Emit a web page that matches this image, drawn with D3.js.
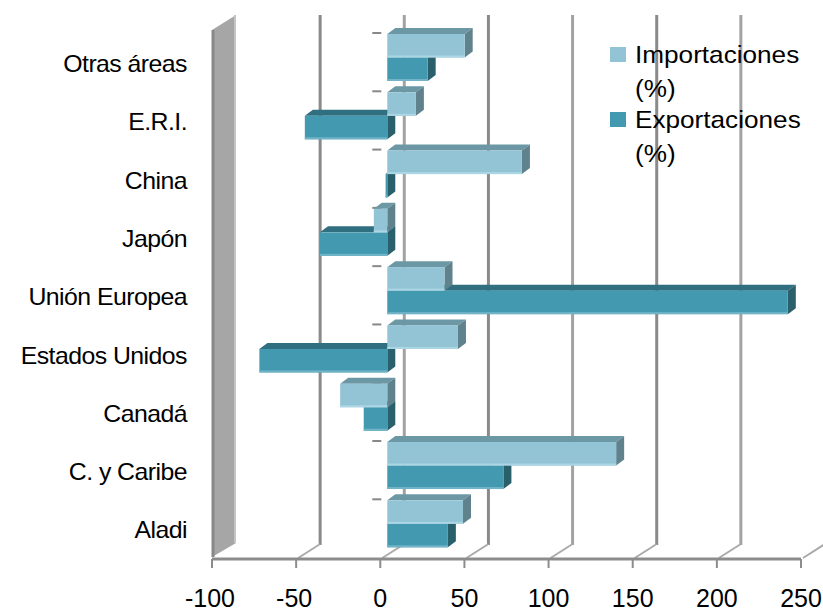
<!DOCTYPE html>
<html>
<head>
<meta charset="utf-8">
<script src="https://cdn.jsdelivr.net/npm/d3@7"></script>
<style>
  body { margin: 0; background: #fff; }
  svg { display: block; font-family: "Liberation Sans", Arial, sans-serif; }
</style>
</head>
<body>
<svg id="chart" width="823" height="614"></svg>
<script>
const categories = ['Otras áreas', 'E.R.I.', 'China', 'Japón', 'Unión Europea', 'Estados Unidos', 'Canadá', 'C. y Caribe', 'Aladi']
const importaciones = [46, 17, 80, -8, 34, 42, -28, 136, 45]
const exportaciones = [24, -49, -1, -40, 238, -76, -14, 69, 36]
const seriesNames = ['Importaciones (%)', 'Exportaciones (%)']
const ticks = [-100, -50, 0, 50, 100, 150, 200, 250]

const svg = d3.select('#chart')

const x = d3.scaleLinear().domain([-100, 250]).range([212, 801])
const y = d3.scaleBand().domain(categories).range([33, 557.6])
const ys = d3.scaleBand().domain(['imp', 'exp']).range([1, 48])

// depth of the back wall and of each bar
const wall = {dx: 24, dy: -14}
const deep = {dx: 8, dy: -6}
const barShift = 7

const styles = {
  imp: {front: '#92c4d6', top: '#6c97a5', side: '#5f828d', edge: '#acd6e4'},
  exp: {front: '#4299b0', top: '#2f6f7f', side: '#2a5f6c', edge: '#72b4c7'}
}

// left side wall
svg.append('polygon')
    .attr('points', [[212, 30], [212 + wall.dx, 30 + wall.dy - 1], [212 + wall.dx, 557 + wall.dy], [212, 557]].join(' '))
    .attr('fill', '#a6a6a6')
svg.append('line')
    .attr('x1', 213).attr('x2', 213).attr('y1', 30).attr('y2', 557)
    .attr('stroke', '#888').attr('stroke-width', 3)
svg.append('line')
    .attr('x1', 235).attr('x2', 235).attr('y1', 15).attr('y2', 543)
    .attr('stroke', '#c4c4c4').attr('stroke-width', 2)

// back wall gridlines
svg.append('g').selectAll('line').data(ticks.slice(1)).enter().append('line')
    .attr('x1', d => x(d) + wall.dx).attr('x2', d => x(d) + wall.dx)
    .attr('y1', 15).attr('y2', 559 + wall.dy)
    .attr('stroke', (d, i) => i % 2 ? '#a2a2a2' : '#8a8a8a')
    .attr('stroke-width', 3)

// floor diagonals
svg.append('g').selectAll('line').data(ticks.slice(1)).enter().append('line')
    .attr('x1', d => x(d) + 2).attr('y1', 558)
    .attr('x2', d => x(d) + wall.dx).attr('y2', 558 + wall.dy)
    .attr('stroke', '#aaa').attr('stroke-width', 2)

// category ticks
svg.append('g').selectAll('line').data(categories).enter().append('line')
    .attr('x1', x(0) - 8).attr('x2', x(0) + 1)
    .attr('y1', d => y(d)).attr('y2', d => y(d))
    .attr('stroke', '#888').attr('stroke-width', 2)

const bars = []
categories.forEach((c, i) => {
  bars.push({cat: c, key: 'exp', value: exportaciones[i]})
  bars.push({cat: c, key: 'imp', value: importaciones[i]})
})

const g = svg.append('g')
bars.forEach(b => {
  const st = styles[b.key]
  const x0 = x(Math.min(0, b.value)) + barShift
  const x1 = x(Math.max(0, b.value)) + barShift
  const y0 = y(b.cat) + ys(b.key)
  const y1 = y0 + ys.bandwidth()
  const bar = g.append('g')
  bar.append('polygon')
      .attr('points', [[x0, y0], [x0 + deep.dx, y0 + deep.dy], [x1 + deep.dx, y0 + deep.dy], [x1, y0]].join(' '))
      .attr('fill', st.top)
  bar.append('polygon')
      .attr('points', [[x1, y0], [x1 + deep.dx, y0 + deep.dy], [x1 + deep.dx, y1 + deep.dy], [x1, y1]].join(' '))
      .attr('fill', st.side)
  bar.append('rect')
      .attr('x', x0).attr('y', y0)
      .attr('width', x1 - x0).attr('height', y1 - y0)
      .attr('fill', st.front)
  bar.append('rect')
      .attr('x', x0).attr('y', y1 - 2)
      .attr('width', x1 - x0).attr('height', 2)
      .attr('fill', st.edge)
})

// front value axis
svg.append('line')
    .attr('x1', x(-100)).attr('x2', x(250)).attr('y1', 559).attr('y2', 559)
    .attr('stroke', '#8c8c8c').attr('stroke-width', 3)
svg.append('g').selectAll('line').data(ticks).enter().append('line')
    .attr('x1', d => x(d)).attr('x2', d => x(d)).attr('y1', 559).attr('y2', 568)
    .attr('stroke', '#8c8c8c').attr('stroke-width', 2)
svg.append('g').selectAll('text').data(ticks).enter().append('text')
    .attr('x', d => x(d) - (d < 0 ? 2 : 0)).attr('y', 607)
    .attr('text-anchor', 'middle')
    .attr('font-size', 25)
    .text(d => d)

// category labels
svg.append('g').selectAll('text').data(categories).enter().append('text')
    .attr('transform', d => `translate(187,${y(d) + y.bandwidth() / 2 + 10}) scale(1.08,1)`)
    .attr('text-anchor', 'end')
    .attr('font-size', 23)
    .attr('letter-spacing', -0.5)
    .text(d => d)

// legend
const legend = svg.append('g')
const legendRows = [{key: 'imp', y: 63}, {key: 'exp', y: 128}]
legendRows.forEach((r, i) => {
  legend.append('rect')
      .attr('x', 610).attr('y', r.y - 16)
      .attr('width', 16).attr('height', 15)
      .attr('fill', styles[r.key].front)
  const parts = seriesNames[i].split(' ')
  parts.forEach((p, j) => {
    legend.append('text')
        .attr('transform', `translate(635,${r.y + j * 34}) scale(1.09,1)`)
        .attr('font-size', 24)
        .text(p)
  })
})
</script>
</body>
</html>
